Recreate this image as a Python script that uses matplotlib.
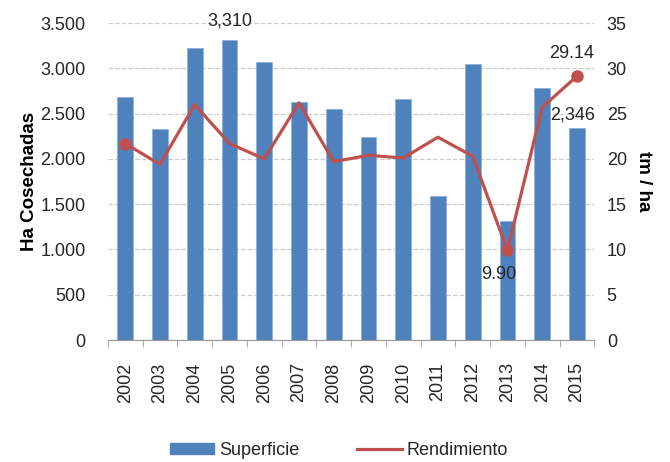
import numpy as np
import matplotlib
matplotlib.use("Agg")
import matplotlib.pyplot as plt
from matplotlib.lines import Line2D
import matplotlib.patches as mpatches

plt.rcParams['font.family'] = ['Liberation Sans', 'DejaVu Sans']

years       = ['2002', '2003', '2004', '2005', '2006', '2007', '2008',
               '2009', '2010', '2011', '2012', '2013', '2014', '2015']
superficie  = [2680, 2330, 3220, 3310, 3070, 2630, 2555,
               2240, 2660, 1590, 3050, 1320, 2780, 2346]
rendimiento = [21.7, 19.4, 26.0, 21.7, 20.0, 26.2, 19.7,
               20.4, 20.1, 22.4, 20.3, 9.90, 25.7, 29.14]

BLUE = '#4F81BD'
RED  = '#C0504D'
TXT  = '#262626'
FS   = 13

fig = plt.figure(figsize=(6.7, 4.62), dpi=100)
ax1 = fig.add_axes([0.161, 0.264, 0.726, 0.686])
ax2 = ax1.twinx()

x = np.arange(len(years))
ax1.bar(x, superficie, width=0.45, color=BLUE, edgecolor='#8DB0DA', linewidth=0.6, zorder=2)
ax2.plot(x, rendimiento, color=RED, lw=2.3, zorder=3)
# markers only on the labelled points
for i in (0, 11, 13):
    ax2.plot(x[i], rendimiento[i], 'o', color=RED, ms=8, zorder=4)

ax1.set_ylim(0, 3500)
ax1.set_yticks(np.arange(0, 3501, 500))
ax1.set_yticklabels(['0', '500', '1.000', '1.500', '2.000', '2.500', '3.000', '3.500'])
ax2.set_ylim(0, 35)
ax2.set_yticks(np.arange(0, 36, 5))
ax1.set_xlim(-0.5, len(years) - 0.5)

ax1.set_xticks(x)
ax1.set_xticklabels(years, rotation=90, fontsize=FS, color=TXT)
ax1.set_xticks(np.arange(-0.5, len(years), 1), minor=True)
ax1.tick_params(axis='x', which='major', length=0, pad=16)
ax1.tick_params(axis='x', which='minor', length=5, color='#999999')
ax1.tick_params(axis='y', length=0, labelsize=FS, labelcolor=TXT, pad=16)
ax2.tick_params(axis='y', length=0, labelsize=FS, labelcolor=TXT, pad=9)

ax1.yaxis.grid(True, ls='--', color='#CCCCCC', lw=0.9, zorder=0)
ax1.set_axisbelow(True)
for ax in (ax1, ax2):
    for s in ('top', 'left', 'right'):
        ax.spines[s].set_visible(False)
    ax.spines['bottom'].set_color('#999999')
ax2.spines['bottom'].set_visible(False)

ax1.set_ylabel('Ha Cosechadas', fontsize=13.5, fontweight='bold', labelpad=2)
ax2.set_ylabel('tm / ha', fontsize=13.5, fontweight='bold', rotation=270, labelpad=18)

ax1.annotate('3,310', (x[3], superficie[3]), xytext=(0, 8), textcoords='offset points',
             ha='center', va='bottom', fontsize=FS, color=TXT)
ax1.annotate('2,346', (x[13], superficie[13]), xytext=(-3, 3), textcoords='offset points',
             ha='center', va='bottom', fontsize=FS, color=TXT)
ax2.annotate('29.14', (x[13], rendimiento[13]), xytext=(-4, 10), textcoords='offset points',
             ha='center', va='bottom', fontsize=FS, color=TXT)
ax2.annotate('9.90', (x[11], rendimiento[11]), xytext=(-6, -11), textcoords='offset points',
             ha='center', va='top', fontsize=FS, color=TXT)

handles = [mpatches.Patch(color=BLUE, label='Superficie'),
           Line2D([0], [0], color=RED, lw=2.3, label='Rendimiento')]
fig.legend(handles=handles, loc='center', bbox_to_anchor=(0.506, 0.025), ncol=2,
           frameon=False, fontsize=FS, handlelength=2.45, handleheight=0.55,
           handletextpad=0.3, columnspacing=3.2, labelcolor=TXT)

fig.savefig('out.png', dpi=100)
